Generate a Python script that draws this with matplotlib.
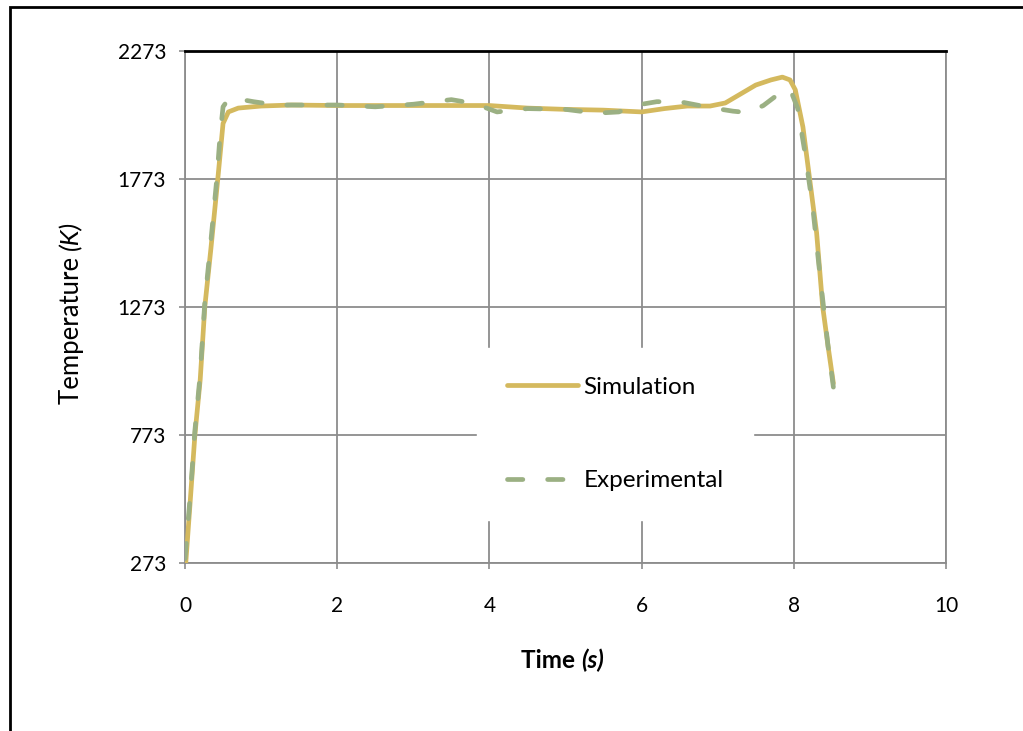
import matplotlib
matplotlib.use("Agg")
import matplotlib.pyplot as plt
from matplotlib.patches import Rectangle

plt.rcParams['font.family'] = ['Lato', 'DejaVu Sans']

# Simulated temperature history
sim_time = [0.01, 0.07, 0.13, 0.20, 0.26, 0.34, 0.43, 0.50, 0.57, 0.70, 1.00, 1.40,
            2.00, 3.00, 4.00, 4.50, 5.00, 5.50, 6.00, 6.30, 6.60, 6.90, 7.10, 7.30,
            7.50, 7.70, 7.85, 7.95, 8.02, 8.12, 8.21, 8.30, 8.38, 8.45, 8.52]
sim_temp = [273, 520, 773, 990, 1273, 1500, 1770, 1990, 2035, 2050, 2058, 2062,
            2060, 2060, 2060, 2050, 2045, 2042, 2035, 2048, 2058, 2058, 2070, 2105,
            2140, 2160, 2171, 2160, 2121, 1976, 1769, 1562, 1273, 1120, 975]

# Measured temperature history
exp_time = [0.00, 0.07, 0.13, 0.20, 0.26, 0.34, 0.42, 0.46, 0.50, 0.57, 0.65,
            0.90, 1.20, 2.00, 2.50, 3.00, 3.50, 3.80, 4.10, 4.50, 5.00, 5.40,
            5.70, 5.90, 6.20, 6.50, 6.90, 7.20, 7.40, 7.60, 7.80, 7.95, 8.05,
            8.15, 8.25, 8.35, 8.45, 8.52]
exp_temp = [290, 540, 790, 1010, 1290, 1530, 1780, 1940, 2055, 2085, 2088,
            2075, 2062, 2062, 2055, 2065, 2083, 2068, 2035, 2048, 2045, 2030,
            2035, 2060, 2075, 2075, 2052, 2038, 2032, 2060, 2105, 2125, 2050,
            1870, 1660, 1380, 1120, 960]

x_ticks = [0, 2, 4, 6, 8, 10]
y_ticks = [273, 773, 1273, 1773, 2273]

sim_color = '#D4B95E'
exp_color = '#9BB083'
grid_color = '#8C8C8C'

fig = plt.figure(figsize=(10.23, 7.31), dpi=100)
ax = fig.add_axes([185 / 1023, 1 - 563 / 731, (946 - 185) / 1023, (563 - 51) / 731])

ax.plot(sim_time, sim_temp, color=sim_color, lw=3.4, solid_capstyle='round',
        solid_joinstyle='round', label='Simulation', zorder=3)
ax.plot(exp_time, exp_temp, color=exp_color, lw=3.4, dashes=(3.25, 5.25),
        dash_capstyle='round', dash_joinstyle='round', label='Experimental', zorder=4)

ax.set_xlim(0, 10)
ax.set_ylim(273, 2273)
ax.set_xticks(x_ticks)
ax.set_yticks(y_ticks)
ax.tick_params(labelsize=15, labelcolor='black', color=grid_color, length=4.5, width=1.2)
ax.tick_params(axis='x', pad=19)
ax.tick_params(axis='y', pad=9)
ax.grid(True, color=grid_color, lw=1.3)
ax.set_axisbelow(True)

for side in ('left', 'bottom', 'right'):
    ax.spines[side].set_color(grid_color)
    ax.spines[side].set_linewidth(1.3)
ax.spines['top'].set_color('black')
ax.spines['top'].set_linewidth(2)

# axis titles with italic units
fig.text(581 / 1023, 1 - 660 / 731, 'Time ', fontsize=17.5, fontweight='bold',
         ha='right', va='center')
fig.text(581 / 1023, 1 - 660 / 731, '(s)', fontsize=17.5, fontweight='bold',
         style='italic', ha='left', va='center')

fig.text(71 / 1023, 1 - 250 / 731, 'Temperature ', fontsize=18.5, rotation=90,
         ha='center', va='top')
fig.text(71 / 1023, 1 - 250 / 731, '(K)', fontsize=18.5, rotation=90, style='italic',
         ha='center', va='bottom')

leg = ax.legend(loc='center', bbox_to_anchor=(615 / 1023, 1 - 434 / 731),
                bbox_transform=fig.transFigure, fontsize=17.5, frameon=True,
                fancybox=False, edgecolor='white', framealpha=1,
                handlelength=2.96, handletextpad=0.2, labelspacing=2.97,
                borderpad=1.2)
leg.set_zorder(5)

# outer chart frame
fig.patches.append(Rectangle((10 / 1023, -0.1), 1.2, 1.1 - 7 / 731,
                             transform=fig.transFigure, fill=False,
                             edgecolor='black', lw=2, zorder=10))

fig.savefig('out.png', dpi=100)
